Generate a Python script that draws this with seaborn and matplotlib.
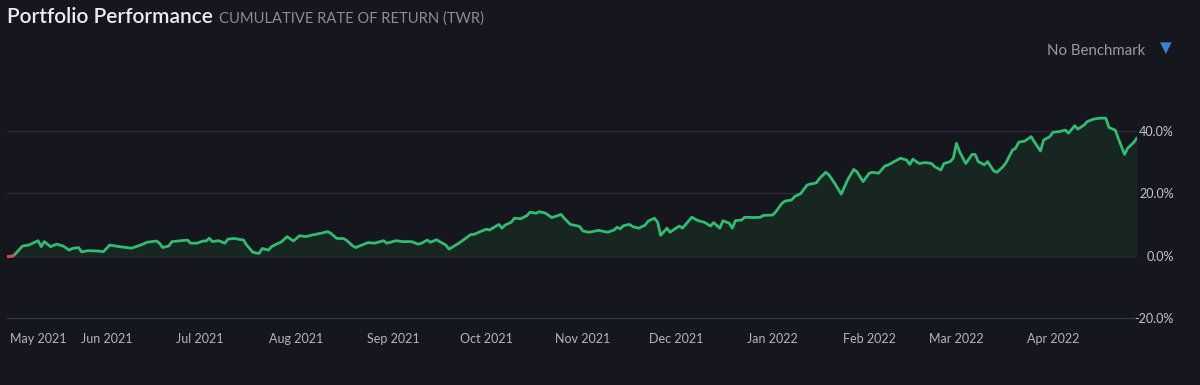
import pandas as pd
import seaborn as sns
import matplotlib.pyplot as plt
import matplotlib.dates as mdates

# cumulative TWR (%)
dates = [
    "2021-04-30", "2021-05-02", "2021-05-03", "2021-05-05", "2021-05-07", "2021-05-10", "2021-05-11",
    "2021-05-12", "2021-05-14", "2021-05-16", "2021-05-18", "2021-05-20", "2021-05-21", "2021-05-23",
    "2021-05-24", "2021-05-26", "2021-05-29", "2021-05-31", "2021-06-02", "2021-06-05", "2021-06-09",
    "2021-06-12", "2021-06-14", "2021-06-17", "2021-06-18", "2021-06-19", "2021-06-21", "2021-06-22",
    "2021-06-25", "2021-06-27", "2021-06-28", "2021-06-30", "2021-07-02", "2021-07-03", "2021-07-04",
    "2021-07-05", "2021-07-07", "2021-07-09", "2021-07-10", "2021-07-12", "2021-07-15", "2021-07-16",
    "2021-07-18", "2021-07-20", "2021-07-21", "2021-07-23", "2021-07-24", "2021-07-26", "2021-07-27",
    "2021-07-29", "2021-07-31", "2021-08-02", "2021-08-04", "2021-08-06", "2021-08-09", "2021-08-11",
    "2021-08-12", "2021-08-14", "2021-08-16", "2021-08-17", "2021-08-19", "2021-08-20", "2021-08-22",
    "2021-08-24", "2021-08-26", "2021-08-29", "2021-08-30", "2021-09-02", "2021-09-04", "2021-09-07",
    "2021-09-09", "2021-09-10", "2021-09-12", "2021-09-13", "2021-09-15", "2021-09-16", "2021-09-18",
    "2021-09-19", "2021-09-22", "2021-09-24", "2021-09-26", "2021-09-27", "2021-09-29", "2021-10-01",
    "2021-10-02", "2021-10-05", "2021-10-06", "2021-10-07", "2021-10-09", "2021-10-10", "2021-10-12",
    "2021-10-14", "2021-10-15", "2021-10-17", "2021-10-18", "2021-10-20", "2021-10-22", "2021-10-23",
    "2021-10-25", "2021-10-26", "2021-10-28", "2021-10-30", "2021-10-31", "2021-11-01", "2021-11-03",
    "2021-11-04", "2021-11-06", "2021-11-07", "2021-11-09", "2021-11-11", "2021-11-12", "2021-11-13",
    "2021-11-14", "2021-11-16", "2021-11-17", "2021-11-19", "2021-11-21", "2021-11-22", "2021-11-24",
    "2021-11-25", "2021-11-26", "2021-11-28", "2021-11-29", "2021-12-01", "2021-12-02", "2021-12-03",
    "2021-12-06", "2021-12-08", "2021-12-10", "2021-12-12", "2021-12-13", "2021-12-15", "2021-12-16",
    "2021-12-18", "2021-12-19", "2021-12-20", "2021-12-22", "2021-12-23", "2021-12-26", "2021-12-28",
    "2021-12-29", "2022-01-01", "2022-01-02", "2022-01-04", "2022-01-05", "2022-01-07", "2022-01-08",
    "2022-01-10", "2022-01-12", "2022-01-13", "2022-01-15", "2022-01-16", "2022-01-18", "2022-01-19",
    "2022-01-21", "2022-01-23", "2022-01-25", "2022-01-27", "2022-01-28", "2022-01-30", "2022-02-01",
    "2022-02-02", "2022-02-04", "2022-02-06", "2022-02-07", "2022-02-09", "2022-02-11", "2022-02-13",
    "2022-02-14", "2022-02-15", "2022-02-17", "2022-02-19", "2022-02-21", "2022-02-22", "2022-02-24",
    "2022-02-25", "2022-02-27", "2022-02-28", "2022-03-01", "2022-03-02", "2022-03-04", "2022-03-06",
    "2022-03-07", "2022-03-08", "2022-03-10", "2022-03-11", "2022-03-13", "2022-03-14", "2022-03-16",
    "2022-03-17", "2022-03-19", "2022-03-20", "2022-03-21", "2022-03-23", "2022-03-25", "2022-03-26",
    "2022-03-28", "2022-03-29", "2022-03-31", "2022-04-01", "2022-04-03", "2022-04-05", "2022-04-06",
    "2022-04-08", "2022-04-09", "2022-04-11", "2022-04-12", "2022-04-14", "2022-04-16", "2022-04-18",
    "2022-04-19", "2022-04-21", "2022-04-22", "2022-04-24", "2022-04-25", "2022-04-27", "2022-04-28",
]
returns = [
    -0.2, 0.0, 1.0, 3.2, 3.5, 4.9, 3.0,
    4.6, 3.0, 3.8, 3.2, 1.9, 2.4, 2.7,
    1.3, 1.7, 1.6, 1.4, 3.5, 3.0, 2.5,
    3.5, 4.4, 4.8, 4.1, 2.7, 3.2, 4.6,
    4.9, 5.1, 4.1, 4.1, 4.8, 4.8, 5.7,
    4.6, 4.9, 4.1, 5.4, 5.6, 5.1, 3.5,
    1.2, 0.8, 2.4, 1.9, 3.0, 4.0, 4.4,
    6.2, 4.8, 6.5, 6.2, 6.7, 7.3, 7.8,
    7.3, 5.6, 5.6, 5.1, 3.3, 2.7, 3.5,
    4.3, 4.1, 4.9, 4.1, 4.9, 4.6, 4.6,
    3.8, 4.0, 5.1, 4.4, 5.2, 4.6, 3.5,
    2.2, 4.0, 5.4, 6.9, 6.9, 7.8, 8.6,
    8.3, 10.1, 8.9, 9.9, 10.8, 12.1, 11.9,
    12.9, 14.0, 13.7, 14.2, 13.7, 12.3, 12.6,
    13.3, 12.1, 10.1, 9.7, 9.4, 8.0, 7.6,
    7.8, 8.2, 8.0, 7.6, 8.3, 9.2, 8.7,
    9.7, 10.1, 9.4, 8.9, 9.9, 11.2, 12.1,
    10.8, 6.6, 8.9, 7.6, 9.0, 9.6, 8.9,
    12.4, 11.3, 10.8, 9.6, 10.7, 8.9, 11.3,
    10.5, 8.9, 11.3, 11.5, 12.4, 12.3, 12.4,
    13.0, 13.1, 14.2, 16.9, 17.6, 17.9, 19.0,
    20.0, 22.7, 23.0, 23.4, 24.8, 26.8, 26.0,
    23.1, 19.8, 24.3, 27.7, 27.0, 23.8, 26.5,
    26.8, 26.5, 28.8, 29.1, 30.2, 31.3, 30.7,
    29.3, 31.0, 29.6, 29.9, 29.6, 28.6, 27.5,
    29.6, 30.2, 31.3, 36.1, 33.4, 29.6, 32.5,
    32.5, 30.2, 29.2, 30.2, 27.2, 26.8, 28.6,
    30.0, 33.9, 34.5, 36.4, 36.8, 38.2, 36.6,
    33.6, 37.1, 38.2, 39.6, 39.8, 40.3, 39.3,
    41.7, 40.6, 41.9, 43.0, 43.8, 44.1, 44.1,
    41.1, 40.3, 37.6, 32.5, 34.5, 36.4, 37.8,
]
month_ticks = ["2021-05-01", "2021-06-01", "2021-07-01", "2021-08-01", "2021-09-01", "2021-10-01",
               "2021-11-01", "2021-12-01", "2022-01-01", "2022-02-01", "2022-03-01", "2022-04-01"]
y_ticks = [-20, 0, 20, 40]

df = pd.DataFrame({"date": pd.to_datetime(dates), "ret": returns})

BG = "#16161e"
GREEN = "#2fbd6f"
RED = "#e0434f"
GRID = "#2a2d39"

sns.set_theme(style="dark", rc={"axes.facecolor": BG, "figure.facecolor": BG})
plt.rcParams["font.family"] = ["Lato", "DejaVu Sans"]

fig = plt.figure(figsize=(12, 3.85), dpi=100)
ax = fig.add_axes([0.0058, 0.1687, 0.9417, 0.5722])

ax.fill_between(df["date"], df["ret"], 0, color="#172620", linewidth=0, zorder=1)
line_kw = dict(linewidth=2.0, solid_joinstyle="round", solid_capstyle="round")
sns.lineplot(data=df, x="date", y="ret", ax=ax, color=GREEN, zorder=3, **line_kw)
neg = df[df["ret"] <= 0]
sns.lineplot(data=neg, x="date", y="ret", ax=ax, color=RED, zorder=4, **line_kw)

ax.set_xlim(df["date"].iloc[0], df["date"].iloc[-1])
ax.set_ylim(-20.5, 50)
for sp in ax.spines.values():
    sp.set_visible(False)
ax.set_xlabel("")
ax.set_ylabel("")

for v in y_ticks:
    ax.axhline(v, color=GRID if v != -20 else "#2c3646", linewidth=1, zorder=0)

ax.yaxis.tick_right()
ax.set_yticks(y_ticks)
ax.set_yticklabels([f"{v:.1f}%" for v in y_ticks])
ax.tick_params(axis="y", length=0, pad=26.5, labelsize=9, labelcolor="#c4c4cc")
for lab in ax.get_yticklabels():
    lab.set_horizontalalignment("right")

ticks = pd.to_datetime(month_ticks)
ax.set_xticks(ticks)
ax.xaxis.set_major_formatter(mdates.DateFormatter("%b %Y"))
ax.tick_params(axis="x", length=0, pad=9, labelsize=9, labelcolor="#b4b4bc")
ax.get_xticklabels()[0].set_horizontalalignment("left")
ax.grid(False)

title = fig.text(0.006, 1 - 23 / 385, "Portfolio Performance", color="#ececf0",
                 fontsize=15, fontweight="semibold", va="baseline", ha="left")
fig.canvas.draw()
bb = title.get_window_extent()
fig.text((bb.x1 + 6) / 1200, 1 - 23 / 385, "CUMULATIVE RATE OF RETURN (TWR)", color="#8d8d97",
         fontsize=10.6, va="baseline", ha="left")

fig.text(1145 / 1200, 1 - 55 / 385, "No Benchmark", color="#9a9aa4", fontsize=10.8,
         va="baseline", ha="right")
fig.text(1166 / 1200, 1 - 48 / 385, "\u25BC", color="#3f80da", fontsize=11,
         va="center", ha="center", family=["DejaVu Sans"])

fig.savefig("out.png", dpi=100, facecolor=BG)
